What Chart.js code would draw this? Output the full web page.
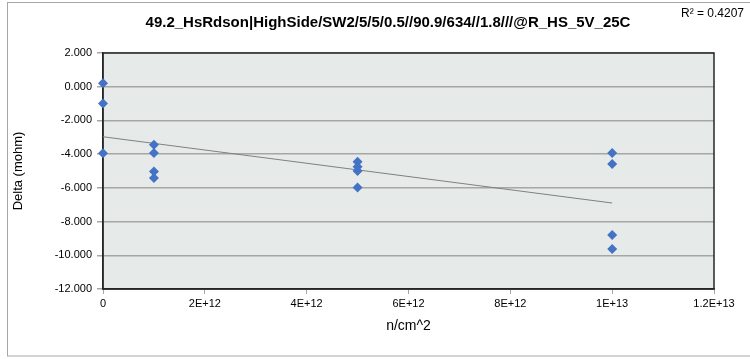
<!DOCTYPE html>
<html>
<head>
<meta charset="utf-8">
<script src="https://cdn.jsdelivr.net/npm/chart.js@4/dist/chart.umd.min.js"></script>
<style>
  html, body { margin: 0; padding: 0; background: #ffffff; }
  #wrap { width: 750px; height: 359px; }
</style>
</head>
<body>
<div id="wrap"><canvas id="c" width="750" height="359"></canvas></div>
<script>
// Fluence per sample group (n/cm^2) and measured Rdson delta (mohm)
const fluence = [0, 0, 0,
                 1e12, 1e12, 1e12, 1e12,
                 5e12, 5e12, 5e12, 5e12,
                 1e13, 1e13, 1e13, 1e13];
const deltaMohm = [0.20, -1.00, -3.95,
                   -3.44, -3.93, -5.03, -5.42,
                   -4.45, -4.75, -5.00, -5.98,
                   -3.93, -4.59, -8.80, -9.62];
const xTicks = [0, 2e12, 4e12, 6e12, 8e12, 1e13, 1.2e13];
const yTicks = [2, 0, -2, -4, -6, -8, -10, -12];
const titleText = '49.2_HsRdson|HighSide/SW2/5/5/0.5//90.9/634//1.8///@R_HS_5V_25C';
const r2Text = 'R\u00B2 = 0.4207';
const xTitle = 'n/cm^2';
const yTitle = 'Delta (mohm)';

// least-squares linear trend over the measured points
function linearFit(xs, ys) {
  const n = xs.length;
  const mx = xs.reduce((a, b) => a + b, 0) / n;
  const my = ys.reduce((a, b) => a + b, 0) / n;
  let sxy = 0, sxx = 0;
  for (let i = 0; i < n; i++) {
    sxy += (xs[i] - mx) * (ys[i] - my);
    sxx += (xs[i] - mx) * (xs[i] - mx);
  }
  const slope = sxy / sxx;
  return { slope, intercept: my - slope * mx };
}
const fit = linearFit(fluence, deltaMohm);
const xMinData = Math.min(...fluence), xMaxData = Math.max(...fluence);
const trend = [
  { x: xMinData, y: fit.intercept + fit.slope * xMinData },
  { x: xMaxData, y: fit.intercept + fit.slope * xMaxData }
];

const FONT = "'Liberation Sans', 'DejaVu Sans', sans-serif";

const decor = {
  id: 'decor',
  beforeDraw(chart) {
    const { ctx, chartArea: a } = chart;
    ctx.save();
    ctx.fillStyle = '#e6ebea';
    ctx.fillRect(a.left, a.top, a.right - a.left, a.bottom - a.top);
    ctx.restore();
  },
  beforeDatasetsDraw(chart) {
    const { ctx, chartArea: a } = chart;
    ctx.save();
    // plot frame
    ctx.strokeStyle = '#262626';
    ctx.lineWidth = 1.5;
    ctx.strokeRect(a.left, a.top, a.right - a.left, a.bottom - a.top);
    ctx.restore();
  },
  afterDraw(chart) {
    const { ctx, chartArea: a } = chart;
    ctx.save();
    // outer chart border
    ctx.strokeStyle = '#a6a6a6';
    ctx.lineWidth = 1;
    ctx.strokeRect(7.5, 2.5, 760, 353.5);
    ctx.fillStyle = '#000000';
    ctx.textBaseline = 'middle';
    ctx.textAlign = 'center';
    ctx.font = "bold 15px 'Liberation Sans', sans-serif";
    ctx.fillText(titleText, 388, 23);
    ctx.textAlign = 'left';
    ctx.font = "12px " + FONT;
    ctx.fillText(r2Text, 681, 14);
    ctx.textAlign = 'center';
    ctx.font = "14px " + FONT;
    ctx.fillText(xTitle, (a.left + a.right) / 2, 326);
    ctx.font = "13px " + FONT;
    ctx.translate(18, (a.top + a.bottom) / 2);
    ctx.rotate(-Math.PI / 2);
    ctx.fillText(yTitle, 0, 0);
    ctx.restore();
  }
};

new Chart(document.getElementById('c'), {
  type: 'scatter',
  data: {
    datasets: [
      {
        label: 'Delta',
        data: fluence.map((x, i) => ({ x, y: deltaMohm[i] })),
        pointStyle: 'rectRot',
        pointRadius: 5,
        pointBackgroundColor: '#4472c4',
        pointBorderColor: '#4472c4',
        pointBorderWidth: 0,
        showLine: false,
        clip: false,
        order: 1
      },
      {
        label: 'Linear trend',
        type: 'line',
        data: trend,
        borderColor: '#808080',
        borderWidth: 1,
        pointRadius: 0,
        fill: false,
        order: 2
      }
    ]
  },
  options: {
    responsive: false,
    animation: false,
    devicePixelRatio: 1,
    layout: { padding: { left: 0, top: 53, right: 36, bottom: 0 } },
    plugins: { legend: { display: false }, tooltip: { enabled: false } },
    scales: {
      x: {
        type: 'linear',
        min: 0, max: 1.2e13,
        afterBuildTicks(s) { s.ticks = xTicks.map(v => ({ value: v })); },
        afterFit(s) { s.height = 70; },
        ticks: {
          color: '#000000',
          font: { family: FONT, size: 11 },
          padding: 3,
          maxRotation: 0,
          callback(v) {
            if (v === 0) return '0';
            return Number(v.toPrecision(6)).toExponential().toUpperCase();
          }
        },
        grid: { drawOnChartArea: false, drawTicks: true, tickLength: 5, color: '#a6a6a6', lineWidth: 1 },
        border: { display: true, color: '#262626', width: 1.5 }
      },
      y: {
        type: 'linear',
        min: -12, max: 2,
        afterBuildTicks(s) { s.ticks = yTicks.map(v => ({ value: v })); },
        afterFit(s) { s.width = 103; },
        ticks: {
          color: '#000000',
          font: { family: FONT, size: 11 },
          padding: 5,
          callback(v) { return v.toFixed(3); }
        },
        grid: { color: '#a6a6a6', lineWidth: 1.5, tickLength: 6 },
        border: { display: true, color: '#262626', width: 1.5 }
      }
    }
  },
  plugins: [decor]
});
</script>
</body>
</html>
